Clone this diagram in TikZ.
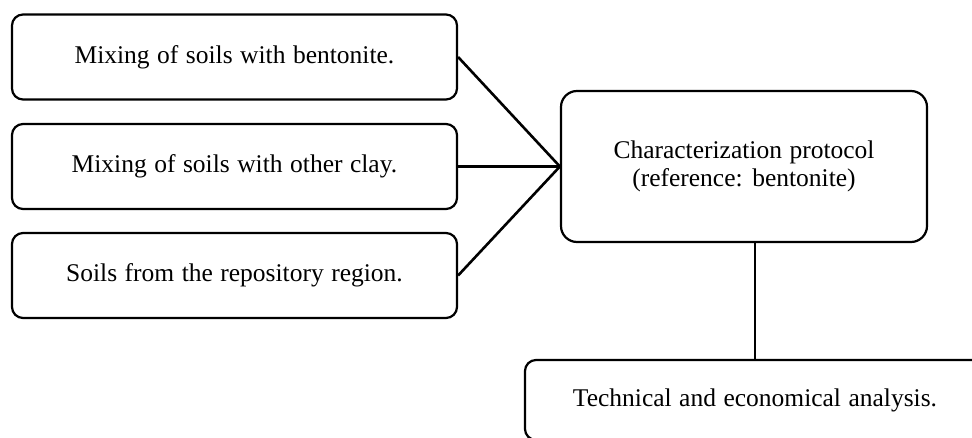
\documentclass[tikz,border=0pt]{standalone}
\usepackage{fontspec}
\setmainfont{Liberation Serif}
\usepackage{tikz}
\newcommand\boxfont{\fontsize{25.5}{28}\selectfont\spaceskip=7.5pt plus 1pt\relax}

\begin{document}
\begin{tikzpicture}[x=1pt,y=1pt]

\tikzset{block/.style = {shape=rectangle,draw,line width=2.2pt,rounded corners=11pt,
  minimum width=445pt,minimum height=85pt,font=\boxfont}}
\tikzset{edge/.style = {line width=2.6pt}}
\useasboundingbox (0,0) rectangle (972,437);
% vertices
\node[block] (bent) at (234.5,380) {Mixing of soils with bentonite.};
\node[block] (clay) at (234.5,270.5) {Mixing of soils with other clay.};
\node[block] (soil) at (234.5,161.5) {Soils from the repository region.};
\node[block,minimum width=366pt,minimum height=151pt,rounded corners=16pt,align=center] (prot) at (744,270.5) {Characterization protocol\\(reference: bentonite)};
\node[block,minimum width=460pt,minimum height=80pt] (anal) at (755,37) {Technical and economical analysis.};

%edges
\draw[edge] (bent.east) -- (prot.west);
\draw[edge] (clay.east) -- (prot.west);
\draw[edge] (soil.east) -- (prot.west);
\draw[edge] (anal.north) -- (anal.north |- prot.south);
\end{tikzpicture}
\end{document}
